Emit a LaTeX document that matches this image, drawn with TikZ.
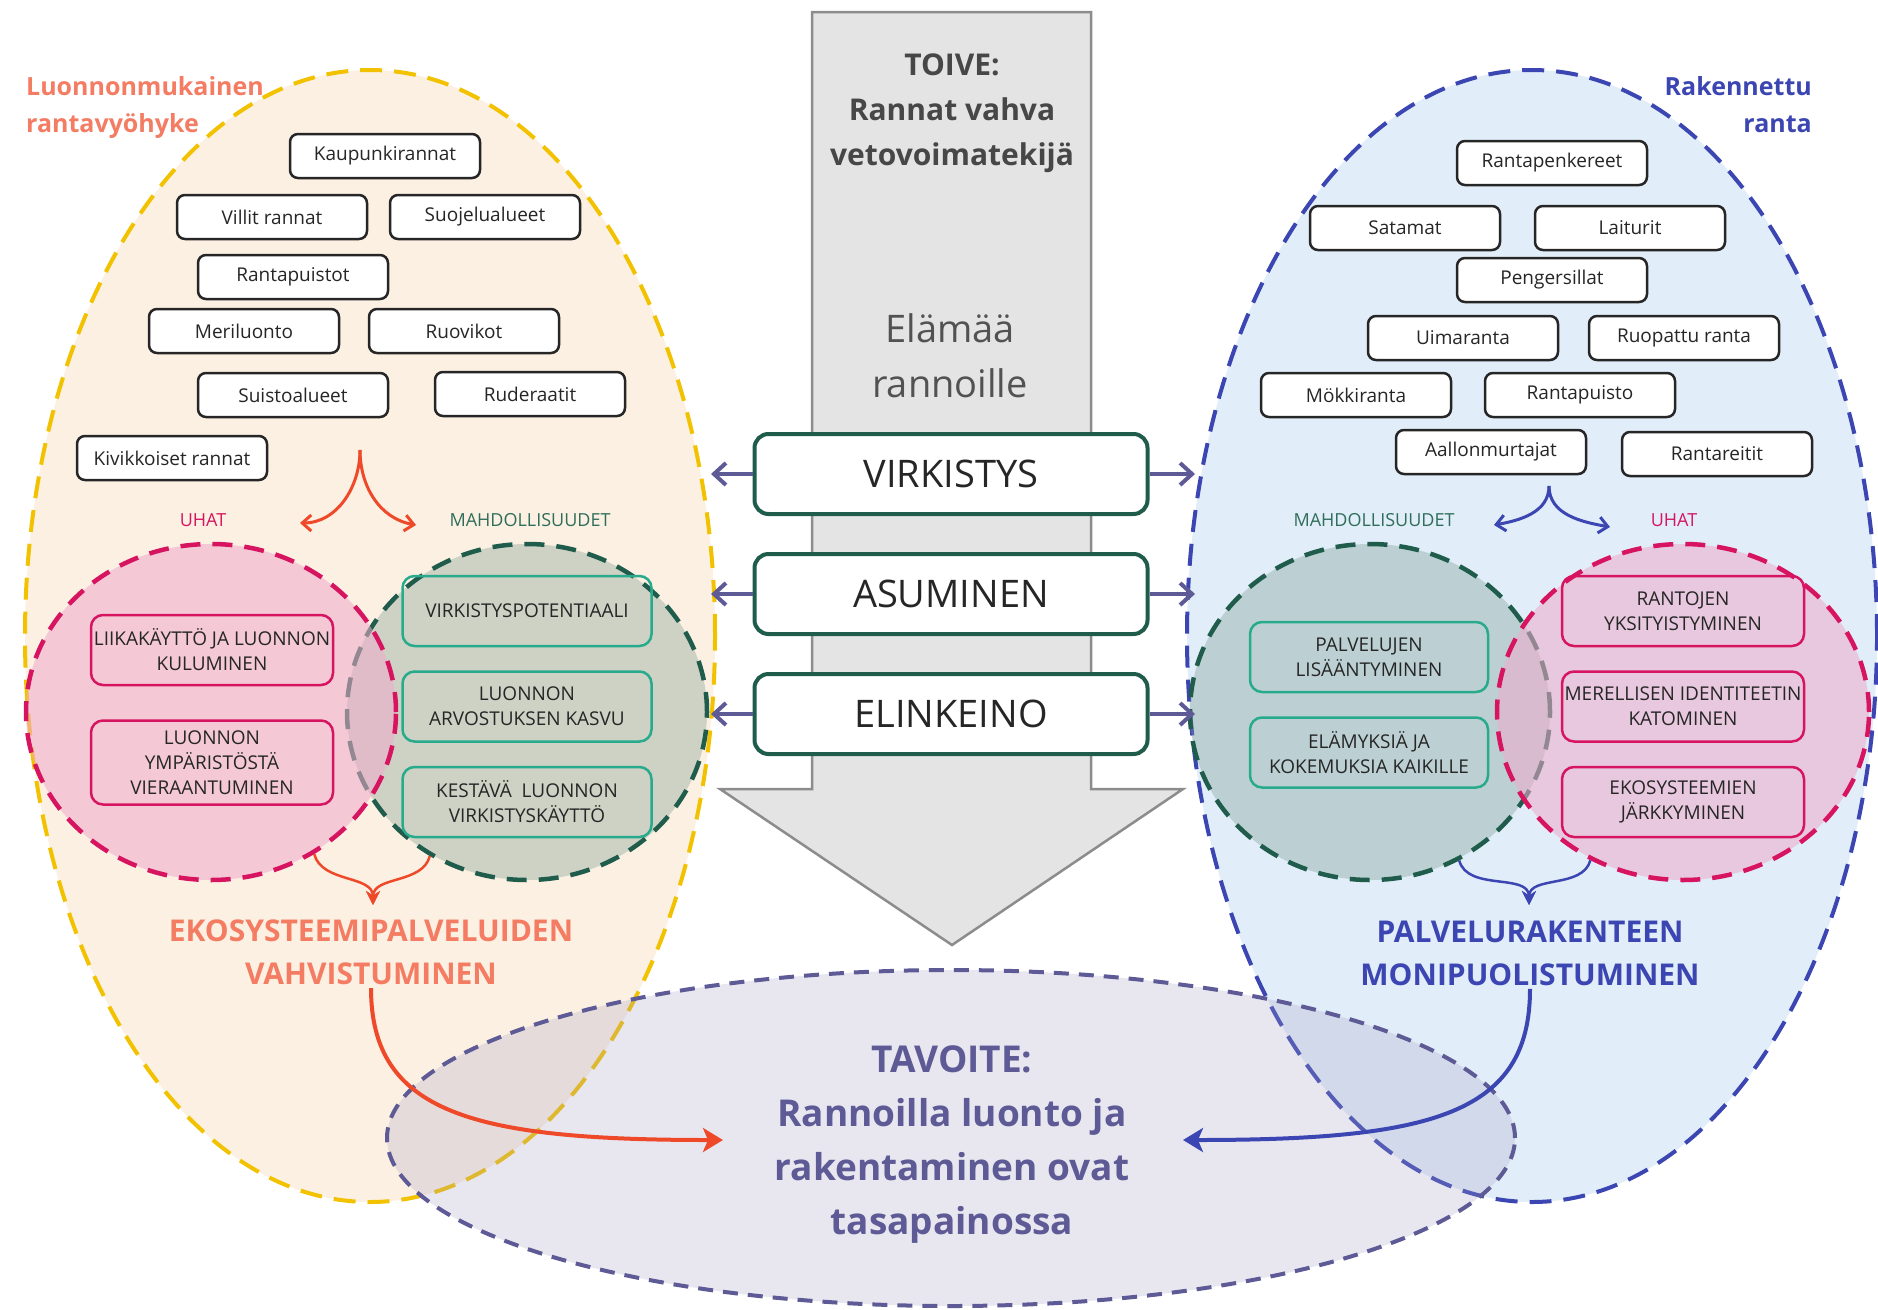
\documentclass[tikz,border=0pt]{standalone}
\usepackage{fontspec}
\setmainfont{Open Sans}
\usepackage{tikz}
\usetikzlibrary{positioning,arrows.meta,shapes.geometric}

\definecolor{zoneyellow}{RGB}{242,194,0}
\definecolor{zonepeach}{RGB}{252,240,227}
\definecolor{zoneblue}{RGB}{60,70,178}
\definecolor{zonesky}{RGB}{225,237,248}
\definecolor{salmon}{RGB}{244,124,99}
\definecolor{flame}{RGB}{238,74,42}
\definecolor{threatred}{RGB}{214,20,96}
\definecolor{threatfill}{RGB}{239,172,203}
\definecolor{chancegreen}{RGB}{31,92,75}
\definecolor{chancedark}{RGB}{46,110,90}
\definecolor{chancefill}{RGB}{125,159,148}
\definecolor{chanceteal}{RGB}{40,170,140}
\definecolor{goalpurple}{RGB}{93,90,150}
\definecolor{goalfill}{RGB}{163,159,195}
\definecolor{hopegray}{RGB}{228,228,228}

\begin{document}
\begin{tikzpicture}[x=1pt, y=-1pt,
    every node/.style={font=\fontsize{19}{25}\selectfont, text=black!85},
    zone/.style={ellipse, line width=4pt, dash pattern=on 22pt off 12pt, inner sep=0pt},
    pool/.style={ellipse, line width=4.5pt, dash pattern=on 20pt off 12pt, inner sep=0pt, minimum height=336pt},
    shorebox/.style={draw=black!85, line width=2.5pt, rounded corners=8pt, fill=white, minimum width=190pt, minimum height=44pt, inner sep=2pt},
    threatbox/.style={draw=threatred, line width=2.5pt, rounded corners=12pt, align=center, minimum width=242pt, minimum height=70pt, inner sep=1pt},
    chancebox/.style={draw=chanceteal, line width=2.5pt, rounded corners=12pt, align=center, minimum height=70pt, inner sep=1pt},
    themebox/.style={draw=chancegreen, line width=4pt, rounded corners=14pt, fill=white, minimum width=393pt, minimum height=80pt, font=\fontsize{38}{46}\selectfont},
    sidearrow/.style={draw=goalpurple, line width=4pt, -{Straight Barb[length=12pt,width=22pt]}},
    splitarrow/.style={line width=3pt, -{Straight Barb[length=9pt,width=16pt]}},
    mergearrow/.style={line width=2.5pt, -{Stealth[length=14pt,width=14pt]}},
    goalarrow/.style={line width=4pt, -{Stealth[length=20pt,width=24pt,inset=5pt]}},
    zonetitle/.style={font=\fontsize{25}{37}\selectfont\bfseries, inner sep=0pt},
    sidelabel/.style={font=\fontsize{18}{24}\selectfont},
    outcome/.style={font=\fontsize{30}{43}\selectfont\bfseries, align=center}
]
    \useasboundingbox (0,0) rectangle (1878,1309);

    % Zones
    \node[zone, draw=zoneyellow, fill=zonepeach, minimum width=690pt, minimum height=1132pt] (natural) at (370,636) {};
    \node[zone, draw=zoneblue, fill=zonesky, minimum width=690pt, minimum height=1132pt] (built) at (1532,636) {};
    \node[zonetitle, text=salmon, align=left, anchor=north west] (naturaltitle) at (26,76) {Luonnonmukainen\\rantavyöhyke};
    \node[zonetitle, text=zoneblue, align=right, anchor=north east] (builttitle) at (1812,76) {Rakennettu\\ranta};

    % Natural shores
    \node[shorebox] (kaupunki) at (385,156) {Kaupunkirannat};
    \node[shorebox] (villit) at (272,217) {Villit rannat};
    \node[shorebox] (suojelu) at (485,217) {Suojelualueet};
    \node[shorebox] (puistot) at (293,277) {Rantapuistot};
    \node[shorebox] (meri) at (244,331) {Meriluonto};
    \node[shorebox] (ruovikot) at (464,331) {Ruovikot};
    \node[shorebox] (suisto) at (293,395) {Suistoalueet};
    \node[shorebox] (ruderaatit) at (530,394) {Ruderaatit};
    \node[shorebox] (kivikko) at (172,458) {Kivikkoiset rannat};

    % Built shores
    \node[shorebox] (penkereet) at (1552,163) {Rantapenkereet};
    \node[shorebox] (satamat) at (1405,228) {Satamat};
    \node[shorebox] (laiturit) at (1630,228) {Laiturit};
    \node[shorebox] (pengersillat) at (1552,280) {Pengersillat};
    \node[shorebox] (uimaranta) at (1463,338) {Uimaranta};
    \node[shorebox] (ruopattu) at (1684,338) {Ruopattu ranta};
    \node[shorebox] (mokki) at (1356,395) {Mökkiranta};
    \node[shorebox] (rantapuisto) at (1580,395) {Rantapuisto};
    \node[shorebox] (aallon) at (1491,452) {Aallonmurtajat};
    \node[shorebox] (reitit) at (1717,454) {Rantareitit};

    % Split arrows
    \coordinate (lsplit) at (360,450);
    \coordinate (lthreat) at (300,523);
    \coordinate (lchance) at (416,525);
    \draw[splitarrow, flame] (lsplit) to[out=-90, in=0] (lthreat);
    \draw[splitarrow, flame] (lsplit) to[out=-90, in=170] (lchance);
    \coordinate (rsplit) at (1549,486);
    \coordinate (rchance) at (1494,525);
    \coordinate (rthreat) at (1610,527);
    \draw[splitarrow, zoneblue] (rsplit) to[out=-90, in=10] (rchance);
    \draw[splitarrow, zoneblue] (rsplit) to[out=-90, in=170] (rthreat);

    \node[sidelabel, text=threatred] (luhat) at (203,520) {UHAT};
    \node[sidelabel, text=chancedark] (lmahd) at (530,520) {MAHDOLLISUUDET};
    \node[sidelabel, text=chancedark] (rmahd) at (1374,520) {MAHDOLLISUUDET};
    \node[sidelabel, text=threatred] (ruhat) at (1674,520) {UHAT};

    % Threats and chances, left
    \node[pool, draw=chancegreen, fill=chancefill, fill opacity=0.37, minimum width=360pt] (lchancepool) at (527,712) {};
    \node[pool, draw=threatred, fill=threatfill, fill opacity=0.56, minimum width=370pt] (lthreatpool) at (211,712) {};
    \node[threatbox] (liika) at (212,650) {LIIKAKÄYTTÖ JA LUONNON\\KULUMINEN};
    \node[threatbox, minimum height=84pt, below=33pt of liika] (vieraan) {LUONNON\\YMPÄRISTÖSTÄ\\VIERAANTUMINEN};
    \node[chancebox, minimum width=249pt] (vpot) at (527,611) {VIRKISTYSPOTENTIAALI};
    \node[chancebox, minimum width=249pt, below=23pt of vpot] (arvostus) {LUONNON\\ARVOSTUKSEN KASVU};
    \node[chancebox, minimum width=249pt, below=23pt of arvostus] (kestava) {KESTÄVÄ~ LUONNON\\VIRKISTYSKÄYTTÖ};

    % Threats and chances, right
    \node[pool, draw=chancegreen, fill=chancefill, fill opacity=0.37, minimum width=360pt] (rchancepool) at (1370,712) {};
    \node[pool, draw=threatred, fill=threatfill, fill opacity=0.56, minimum width=372pt] (rthreatpool) at (1683,712) {};
    \node[chancebox, minimum width=238pt] (palvelut) at (1369,657) {PALVELUJEN\\LISÄÄNTYMINEN};
    \node[chancebox, minimum width=238pt, below=23pt of palvelut] (elamys) {ELÄMYKSIÄ JA\\KOKEMUKSIA KAIKILLE};
    \node[threatbox] (yksit) at (1683,611) {RANTOJEN\\YKSITYISTYMINEN};
    \node[threatbox, below=23pt of yksit] (identiteetti) {MERELLISEN IDENTITEETIN\\KATOMINEN};
    \node[threatbox, below=23pt of identiteetti] (jarkky) {EKOSYSTEEMIEN\\JÄRKKYMINEN};

    % Merge arrows
    \coordinate (ekotip) at (373,905);
    \draw[mergearrow, flame] (lthreatpool.-54) to[out=-75, in=90] (ekotip);
    \draw[mergearrow, flame] (lchancepool.-124) to[out=-105, in=90] (ekotip);
    \coordinate (palvtip) at (1529,905);
    \draw[mergearrow, zoneblue] (rchancepool.-59) to[out=-75, in=90] (palvtip);
    \draw[mergearrow, zoneblue] (rthreatpool.-122) to[out=-105, in=90] (palvtip);

    \node[outcome, text=salmon] (ekotext) at (371,952) {EKOSYSTEEMIPALVELUIDEN\\VAHVISTUMINEN};
    \node[outcome, text=zoneblue] (palvtext) at (1530,953) {PALVELURAKENTEEN\\MONIPUOLISTUMINEN};

    % Big arrow
    \draw[draw=black!45, line width=2.5pt, fill=hopegray] (812,12) -- (1091,12) -- (1091,789) -- (1183,789) -- (952,945) -- (720,789) -- (812,789) -- cycle;
    \node[font=\fontsize{30}{45}\selectfont\bfseries, text=black!72, align=center] (hope) at (952,113) {TOIVE:\\Rannat vahva\\vetovoimatekijä};
    \node[font=\fontsize{38}{55}\selectfont, text=black!68, align=center] (life) at (950,356) {Elämää\\rannoille};

    % Themes
    \node[themebox] (virkistys) at (951,474) {VIRKISTYS};
    \node[themebox, below=36pt of virkistys] (asuminen) {ASUMINEN};
    \node[themebox, below=36pt of asuminen] (elinkeino) {ELINKEINO};

    % Arrows
    \coordinate (lzone) at (711,600);
    \coordinate (rzone) at (1195,600);
    \draw[sidearrow] (virkistys) -- (virkistys -| lzone);
    \draw[sidearrow] (virkistys) -- (virkistys -| rzone);
    \draw[sidearrow] (asuminen) -- (asuminen -| lzone);
    \draw[sidearrow] (asuminen) -- (asuminen -| rzone);
    \draw[sidearrow] (elinkeino) -- (elinkeino -| lzone);
    \draw[sidearrow] (elinkeino) -- (elinkeino -| rzone);

    % Goal
    \node[ellipse, draw=goalpurple, line width=4pt, dash pattern=on 15pt off 10pt, fill=goalfill, fill opacity=0.25, inner sep=0pt, minimum width=1128pt, minimum height=336pt] (goal) at (951,1138) {};
    \node[font=\fontsize{37}{54}\selectfont\bfseries, text=goalpurple, align=center] (goaltext) at (952,1145) {TAVOITE:\\Rannoilla luonto ja\\rakentaminen ovat\\tasapainossa};

    \coordinate (goalleft) at (723,1140);
    \coordinate (goalright) at (1183,1140);
    \draw[goalarrow, flame] (ekotext.south) .. controls +(0,125) and +(-250,0) .. (goalleft);
    \draw[goalarrow, zoneblue] (palvtext.south) .. controls +(0,125) and +(250,0) .. (goalright);
\end{tikzpicture}
\end{document}
